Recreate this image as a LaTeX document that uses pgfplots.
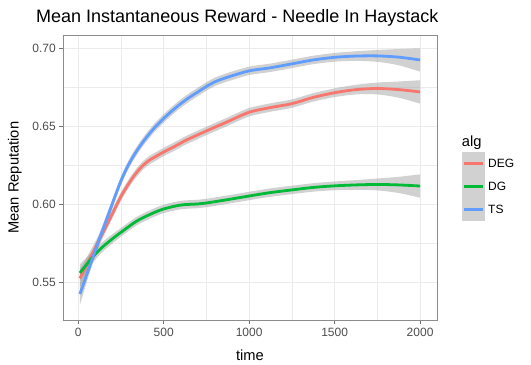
\documentclass[border=0pt]{standalone}
\usepackage{fontspec}
\setmainfont{Liberation Sans}
\usepackage{pgfplots}
\usepackage{pgfplotstable}
\pgfplotsset{compat=1.18}
\usepgfplotslibrary{fillbetween}

\definecolor{degc}{HTML}{F8766D}
\definecolor{dgc}{HTML}{00BA38}
\definecolor{tsc}{HTML}{619CFF}
\definecolor{grid92}{HTML}{EBEBEB}
\definecolor{txt30}{HTML}{4D4D4D}
\definecolor{keyfill}{HTML}{D1D1D1}

% t, smoothed mean, half width of the band
\pgfplotstableread{
t y e
10 0.5525 0.0060
60 0.5635 0.0045
136 0.5800 0.0035
200 0.5940 0.0030
250 0.6050 0.0028
300 0.6140 0.0027
339 0.6200 0.0027
380 0.6250 0.0027
420 0.6285 0.0027
460 0.6310 0.0027
500 0.6335 0.0027
580 0.6380 0.0027
630 0.6410 0.0027
750 0.6470 0.0027
875 0.6530 0.0027
1000 0.6590 0.0027
1125 0.6620 0.0027
1250 0.6645 0.0027
1375 0.6685 0.0027
1500 0.6715 0.0028
1625 0.6735 0.0031
1750 0.6742 0.0038
1875 0.6735 0.0052
2000 0.6720 0.0075
}\tabDEG

\pgfplotstableread{
t y e
10 0.5560 0.0055
68 0.5640 0.0040
126 0.5710 0.0033
190 0.5770 0.0030
250 0.5820 0.0028
339 0.5890 0.0027
420 0.5935 0.0027
500 0.5970 0.0027
600 0.5995 0.0027
700 0.6002 0.0027
750 0.6008 0.0027
875 0.6030 0.0027
1000 0.6053 0.0027
1125 0.6075 0.0027
1250 0.6092 0.0027
1375 0.6108 0.0027
1500 0.6118 0.0028
1625 0.6124 0.0031
1750 0.6127 0.0038
1875 0.6124 0.0052
2000 0.6117 0.0075
}\tabDG

\pgfplotstableread{
t y e
10 0.5425 0.0070
60 0.5580 0.0045
120 0.5765 0.0035
180 0.5945 0.0030
250 0.6150 0.0028
300 0.6265 0.0027
350 0.6355 0.0027
400 0.6430 0.0027
450 0.6495 0.0027
500 0.6550 0.0027
550 0.6600 0.0027
600 0.6645 0.0027
650 0.6685 0.0027
700 0.6720 0.0027
750 0.6755 0.0027
800 0.6785 0.0027
875 0.6815 0.0027
1000 0.6855 0.0027
1125 0.6875 0.0027
1250 0.6900 0.0027
1375 0.6925 0.0027
1500 0.6942 0.0028
1625 0.6950 0.0031
1750 0.6951 0.0038
1875 0.6943 0.0052
2000 0.6925 0.0075
}\tabTS

\begin{document}
\begin{tikzpicture}
\begin{axis}[
    at={(63bp,44.5bp)}, anchor=south west,
    width=374bp, height=285.5bp, scale only axis,
    xmin=-89, xmax=2099, ymin=0.5255, ymax=0.7085,
    xtick={0,500,1000,1500,2000},
    minor xtick={250,750,1250,1750},
    ytick={0.55,0.60,0.65,0.70},
    minor ytick={0.575,0.625,0.675},
    grid=both,
    major grid style={color=grid92, line width=1.1bp},
    minor grid style={color=grid92, line width=0.55bp},
    axis line style={color=black!45, line width=0.9bp},
    tick align=outside, tick pos=left,
    major tick length=3.7bp, minor tick length=0pt,
    tick style={color=black!55, line width=0.8bp},
    /pgf/number format/assume math mode=true,
    /pgf/number format/1000 sep={},
    ticklabel style={font=\fontsize{12bp}{14bp}\selectfont, text=txt30},
    yticklabel style={/pgf/number format/fixed, /pgf/number format/fixed zerofill, /pgf/number format/precision=2},
]
% DEG
\addplot[draw=none, smooth, name path=degu] table[x=t, y expr=\thisrow{y}+\thisrow{e}] {\tabDEG};
\addplot[draw=none, smooth, name path=degl] table[x=t, y expr=\thisrow{y}-\thisrow{e}] {\tabDEG};
\addplot[fill=black!40, fill opacity=0.45, draw=none] fill between[of=degu and degl];
\addplot[degc, smooth, line width=2.8bp] table[x=t, y=y] {\tabDEG};
% DG
\addplot[draw=none, smooth, name path=dgu] table[x=t, y expr=\thisrow{y}+\thisrow{e}] {\tabDG};
\addplot[draw=none, smooth, name path=dgl] table[x=t, y expr=\thisrow{y}-\thisrow{e}] {\tabDG};
\addplot[fill=black!40, fill opacity=0.45, draw=none] fill between[of=dgu and dgl];
\addplot[dgc, smooth, line width=2.8bp] table[x=t, y=y] {\tabDG};
% TS
\addplot[draw=none, smooth, name path=tsu] table[x=t, y expr=\thisrow{y}+\thisrow{e}] {\tabTS};
\addplot[draw=none, smooth, name path=tsl] table[x=t, y expr=\thisrow{y}-\thisrow{e}] {\tabTS};
\addplot[fill=black!40, fill opacity=0.45, draw=none] fill between[of=tsu and tsl];
\addplot[tsc, smooth, line width=2.8bp] table[x=t, y=y] {\tabTS};
\end{axis}

% titles
\node[anchor=base west, inner sep=0, font=\fontsize{18bp}{21bp}\selectfont] at (36bp,342.3bp) {Mean Instantaneous Reward - Needle In Haystack};
\node[anchor=base, inner sep=0, font=\fontsize{14.7bp}{17bp}\selectfont] at (250bp,5bp) {time};
\node[anchor=base, rotate=90, inner sep=0, font=\fontsize{14.7bp}{17bp}\selectfont] at (18.6bp,187.25bp) {Mean Reputation};

% legend
\node[anchor=base west, inner sep=0, font=\fontsize{14.7bp}{17bp}\selectfont] at (461.7bp,218.3bp) {alg};
\fill[keyfill] (461.7bp,144.3bp) rectangle (485bp,213.3bp);
\draw[degc, line width=2.8bp] (464bp,201.7bp) -- (483bp,201.7bp);
\draw[dgc, line width=2.8bp] (464bp,178.7bp) -- (483bp,178.7bp);
\draw[tsc, line width=2.8bp] (464bp,155.7bp) -- (483bp,155.7bp);
\node[anchor=west, inner sep=0, font=\fontsize{12bp}{14bp}\selectfont] at (488bp,201.7bp) {DEG};
\node[anchor=west, inner sep=0, font=\fontsize{12bp}{14bp}\selectfont] at (488bp,178.7bp) {DG};
\node[anchor=west, inner sep=0, font=\fontsize{12bp}{14bp}\selectfont] at (488bp,155.7bp) {TS};
\pgfresetboundingbox
\useasboundingbox (0,0) rectangle (531bp,365bp);
\end{tikzpicture}
\end{document}
